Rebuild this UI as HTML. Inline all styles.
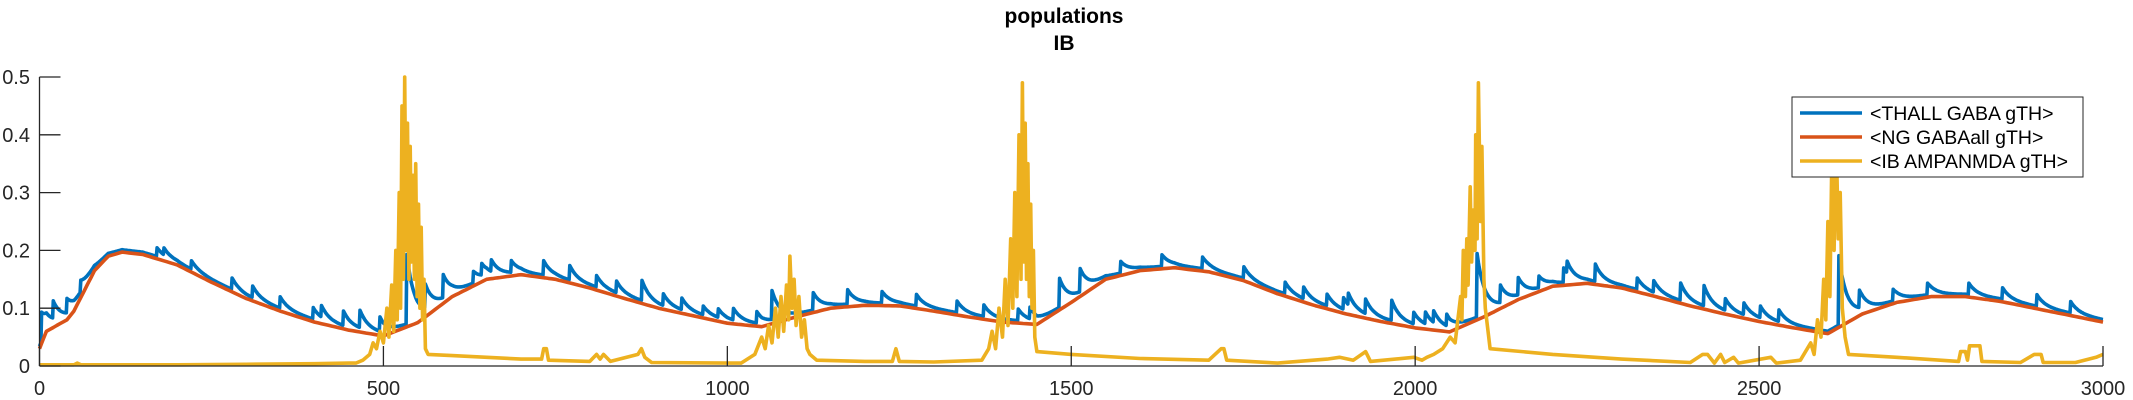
<!DOCTYPE html>
<html><head><meta charset="utf-8"><style>
body{margin:0;background:#fff;}
svg{display:block;font-family:"Liberation Sans",sans-serif;}
</style></head><body>
<svg id="chart" width="2133" height="400" viewBox="0 0 2133 400" xmlns="http://www.w3.org/2000/svg">
<text x="1064" y="23" text-anchor="middle" font-weight="bold" font-size="21">populations</text>
<text x="1064" y="50" text-anchor="middle" font-weight="bold" font-size="21">IB</text>
<g id="plot"></g>
<g id="axes"></g>
<g>
<rect x="1792" y="97" width="291" height="80" fill="#fff" stroke="#262626" stroke-width="1"/>
<line x1="1800" y1="113" x2="1862" y2="113" stroke="#0072BD" stroke-width="3.5"/>
<text x="1870" y="120" font-size="19.5" fill="#000">&lt;THALL GABA gTH&gt;</text>
<line x1="1800" y1="137" x2="1862" y2="137" stroke="#D95319" stroke-width="3.5"/>
<text x="1870" y="144" font-size="19.5" fill="#000">&lt;NG GABAall gTH&gt;</text>
<line x1="1800" y1="161" x2="1862" y2="161" stroke="#EDB120" stroke-width="3.5"/>
<text x="1870" y="168" font-size="19.5" fill="#000">&lt;IB AMPANMDA gTH&gt;</text>
</g>
</svg>
<script>
const ngTimes=[0,10,25,40,50,65,80,100,120,150,200,250,300,350,400,450,500,550,600,650,700,750,800,850,900,950,1000,1050,1100,1150,1200,1250,1300,1350,1400,1450,1500,1550,1600,1650,1700,1750,1800,1850,1900,1950,2000,2050,2100,2150,2200,2250,2300,2350,2400,2450,2500,2550,2600,2650,2700,2750,2800,2850,2900,2950,3000];
const ngValues=[0.03,0.06,0.07,0.08,0.095,0.13,0.165,0.19,0.197,0.193,0.175,0.145,0.117,0.095,0.076,0.062,0.052,0.075,0.12,0.15,0.158,0.15,0.135,0.117,0.10,0.087,0.074,0.068,0.085,0.10,0.105,0.104,0.095,0.085,0.076,0.072,0.11,0.15,0.165,0.17,0.163,0.148,0.125,0.106,0.09,0.077,0.066,0.059,0.085,0.115,0.138,0.143,0.135,0.12,0.104,0.09,0.077,0.066,0.056,0.09,0.11,0.12,0.12,0.112,0.10,0.088,0.076];
const thallSpikeTimes=[3,20,40,60,171,181,221,280,310,350,398,410,442,466,495,534,561,587,631,643,657,686,733,771,810,839,876,907,934,965,987,1009,1043,1065,1125,1175,1225,1275,1334,1373,1423,1440,1483,1513,1572,1632,1691,1751,1811,1838,1872,1896,1903,1928,1966,1998,2015,2027,2046,2090,2124,2150,2180,2216,2221,2262,2323,2347,2386,2420,2451,2478,2502,2529,2616,2646,2695,2745,2805,2854,2904,2953];
const thallSpikeHeights=[0.05,0.03,0.025,0.02,0.015,0.012,0.015,0.02,0.02,0.02,0.02,0.02,0.025,0.03,0.025,0.12,0.04,0.04,0.02,0.02,0.02,0.02,0.025,0.025,0.02,0.02,0.035,0.02,0.02,0.015,0.015,0.02,0.02,0.05,0.03,0.025,0.02,0.02,0.02,0.02,0.02,0.02,0.05,0.04,0.02,0.02,0.02,0.02,0.02,0.02,0.02,0.02,0.02,0.025,0.035,0.02,0.02,0.02,0.02,0.11,0.03,0.03,0.02,0.025,0.02,0.03,0.02,0.02,0.03,0.035,0.02,0.02,0.02,0.02,0.12,0.03,0.02,0.02,0.02,0.02,0.02,0.02];
const ibTimes=[0,50,55,60,100,200,300,400,450,460,470,480,485,490,495,500,505,508,512,515,518,520,523,525,527,529,531,533,535,537,539,541,543,545,547,549,551,553,555,557,559,561,565,600,700,730,733,737,740,800,810,815,820,830,870,875,880,890,1000,1020,1040,1050,1055,1060,1065,1070,1074,1078,1082,1086,1089,1091,1094,1097,1100,1104,1108,1112,1116,1120,1130,1200,1240,1245,1250,1300,1370,1380,1385,1390,1395,1400,1404,1408,1412,1415,1418,1421,1424,1427,1429,1431,1433,1435,1437,1439,1441,1443,1445,1447,1450,1500,1600,1700,1718,1722,1726,1800,1872,1890,1910,1928,1935,1998,2010,2017,2027,2040,2051,2058,2066,2068,2070,2073,2075,2077,2080,2082,2085,2087,2088,2090,2092,2095,2097,2100,2102,2109,2200,2300,2400,2418,2425,2435,2444,2450,2463,2470,2517,2525,2560,2575,2580,2585,2590,2594,2597,2600,2603,2606,2609,2612,2615,2618,2621,2625,2630,2700,2790,2793,2800,2803,2806,2821,2824,2880,2900,2910,2913,2960,2990,3000];
const ibValues=[0.002,0.002,0.005,0.002,0.002,0.002,0.003,0.004,0.005,0.005,0.01,0.02,0.04,0.03,0.06,0.04,0.1,0.05,0.14,0.06,0.2,0.08,0.3,0.1,0.45,0.15,0.5,0.2,0.42,0.15,0.38,0.18,0.33,0.15,0.35,0.12,0.28,0.1,0.24,0.08,0.15,0.03,0.02,0.018,0.012,0.012,0.03,0.03,0.01,0.008,0.02,0.012,0.02,0.008,0.02,0.03,0.015,0.006,0.005,0.005,0.02,0.05,0.03,0.07,0.04,0.1,0.05,0.12,0.06,0.14,0.08,0.19,0.1,0.15,0.07,0.12,0.05,0.08,0.03,0.02,0.01,0.008,0.008,0.03,0.008,0.007,0.01,0.03,0.06,0.03,0.1,0.05,0.15,0.07,0.22,0.1,0.3,0.12,0.4,0.15,0.49,0.18,0.42,0.15,0.35,0.12,0.28,0.1,0.2,0.05,0.025,0.02,0.013,0.01,0.03,0.03,0.01,0.005,0.012,0.015,0.01,0.025,0.008,0.015,0.01,0.015,0.02,0.03,0.05,0.04,0.12,0.08,0.2,0.12,0.22,0.14,0.31,0.18,0.27,0.2,0.4,0.22,0.49,0.25,0.38,0.15,0.1,0.03,0.02,0.012,0.006,0.02,0.02,0.005,0.02,0.006,0.015,0.005,0.015,0.005,0.01,0.04,0.02,0.08,0.05,0.15,0.08,0.25,0.12,0.38,0.2,0.41,0.22,0.3,0.1,0.05,0.02,0.015,0.008,0.025,0.025,0.01,0.035,0.035,0.008,0.006,0.02,0.02,0.006,0.006,0.015,0.02];
const xTickLabels=["0","500","1000","1500","2000","2500","3000"];
const yTickLabels=["0","0.1","0.2","0.3","0.4","0.5"];
const X0=39.5,X1=2103,Y0=366,Y1=77;
const xs=t=>X0+(t/3000)*(X1-X0);
const ys=v=>Y0-(v/0.5)*(Y0-Y1);
const NS="http://www.w3.org/2000/svg";
const plot=document.getElementById('plot'),axes=document.getElementById('axes');
function interp(T,V,t){for(let i=1;i<T.length;i++){if(t<=T[i]){const f=(t-T[i-1])/(T[i]-T[i-1]);return V[i-1]+f*(V[i]-V[i-1]);}}return V[V.length-1];}
function addPath(d,color,name){const p=document.createElementNS(NS,'path');p.setAttribute('d',d);p.setAttribute('fill','none');p.setAttribute('stroke',color);p.setAttribute('stroke-width','3.6');p.setAttribute('stroke-linejoin','round');


plot.appendChild(p);}
let d='';
for(let t=0;t<=3000;t+=1){let v=interp(ngTimes,ngValues,t)+0.004;for(let k=0;k<thallSpikeTimes.length;k++){const dt=t-thallSpikeTimes[k];if(dt>=0&&dt<80)v+=thallSpikeHeights[k]*Math.exp(-dt/12);}d+=(t?'L':'M')+xs(t).toFixed(1)+','+ys(v).toFixed(1);}
addPath(d,'#0072BD','series-thall-gaba');
d='';
for(let t=0;t<=3000;t+=5){d+=(t?'L':'M')+xs(t).toFixed(1)+','+ys(interp(ngTimes,ngValues,t)).toFixed(1);}
addPath(d,'#D95319','series-ng-gabaall');
d='';
ibTimes.forEach((t,i)=>{d+=(i?'L':'M')+xs(t).toFixed(1)+','+ys(ibValues[i]).toFixed(1);});
addPath(d,'#EDB120','series-ib-ampanmda');
function line(x1,y1,x2,y2,name){const l=document.createElementNS(NS,'line');l.setAttribute('x1',x1);l.setAttribute('y1',y1);l.setAttribute('x2',x2);l.setAttribute('y2',y2);l.setAttribute('stroke','#262626');l.setAttribute('stroke-width','1.3');


axes.appendChild(l);}
function txt(x,y,s,anchor,name){const e=document.createElementNS(NS,'text');e.setAttribute('x',x);e.setAttribute('y',y);e.setAttribute('text-anchor',anchor);e.setAttribute('font-size','20');e.setAttribute('fill','#262626');e.textContent=s;


axes.appendChild(e);}
line(X0,Y0,X1,Y0,'x-axis-line');
line(X0,Y0,X0,Y1,'y-axis-line');
xTickLabels.forEach((s)=>{const x=xs(+s);line(x,Y0,x,Y0-20,'x-tick');txt(x,395,s,'middle','x-tick-label');});
yTickLabels.forEach((s)=>{const y=ys(+s);line(X0,y,X0+21,y,'y-tick');txt(30,y+7,s,'end','y-tick-label');});
</script>
</body></html>
